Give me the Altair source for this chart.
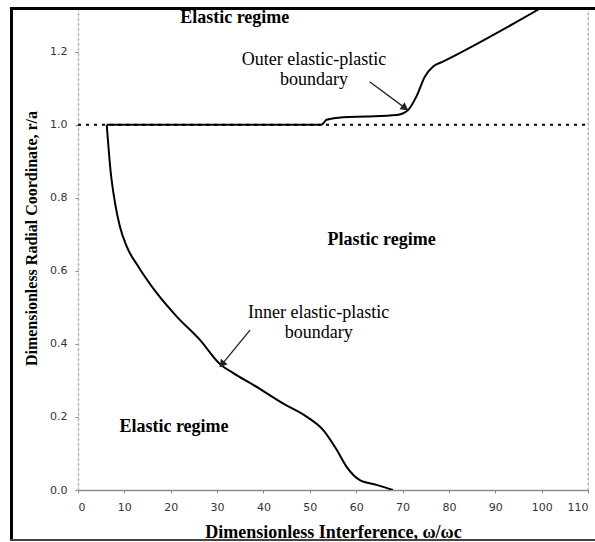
import math
import altair as alt
import pandas as pd

inner_w = [67.9, 64.4, 60.8, 57.9, 55.8, 52.9, 49.3, 44.2, 37.8, 33.5, 30.6,
           26.3, 21.3, 17.0, 13.0, 10.5, 9.05, 8.0, 7.0, 6.2]
inner_r = [0.0, 0.014, 0.027, 0.064, 0.110, 0.164, 0.201, 0.237, 0.288, 0.320, 0.345,
           0.411, 0.475, 0.539, 0.612, 0.667, 0.721, 0.785, 0.877, 1.0]

# Outer elastic-plastic boundary, from first yield at the surface outwards
outer_w = [6.2, 52.5, 53.6, 57.2, 62.2, 68.7, 71.2, 73.0, 74.8, 76.6, 78.7, 99.6]
outer_r = [1.0, 1.0, 1.014, 1.021, 1.023, 1.027, 1.041, 1.078, 1.132, 1.160, 1.173, 1.318]

# Axis ranges and ticks
W_MAX, R_MAX = 110, 1.32
x_ticks = list(range(0, 111, 10))
y_ticks = [0.0, 0.2, 0.4, 0.6, 0.8, 1.0, 1.2]

# Region labels (bold) and boundary labels (regular)
region_text = ["Elastic regime", "Plastic regime", "Elastic regime"]
region_w = [33.8, 65.5, 20.7]
region_r = [1.293, 0.685, 0.173]

bnd_text = ["Outer elastic-plastic", "boundary", "Inner elastic-plastic", "boundary"]
bnd_w = [50.9, 50.9, 51.9, 51.9]
bnd_r = [1.178, 1.123, 0.485, 0.430]

# Leader arrows: start and tip
arr_w1 = [62.9, 37.1]
arr_r1 = [1.118, 0.438]
arr_w2 = [71.1, 30.6]
arr_r2 = [1.041, 0.337]

PW, PH = 510, 482
SERIF = "Liberation Serif"
SANS = "DejaVu Sans"

xs = alt.Scale(domain=[0, W_MAX], nice=False, zero=False)
ys = alt.Scale(domain=[0, R_MAX], nice=False, zero=False)

rows = []
for w, r in zip(inner_w, inner_r):
    rows.append({"w": w, "r": r, "part": "inner"})
for w, r in zip(outer_w, outer_r):
    rows.append({"w": w, "r": r, "part": "outer"})
curve_df = pd.DataFrame(rows)

one = pd.DataFrame({"k": [0]})

x_axis = alt.Axis(
    values=x_ticks, format="d", grid=False,
    domainColor="#8a8a8a", domainWidth=1.5, tickColor="#8a8a8a", tickSize=3,
    labelFont=SANS, labelFontSize=11, labelColor="#333", labelPadding=8,
    title="Dimensionless Interference, ω/ωc", titleFont=SERIF, titleFontSize=18,
    titleFontWeight="bold", titleColor="black", titleY=42, titleBaseline="middle",
)
y_axis = alt.Axis(
    values=y_ticks, format=".1f", grid=False,
    domainColor="#a8a8a8", domainWidth=1.5, domainDash=[2, 3],
    tickColor="#8a8a8a", tickSize=3,
    labelFont=SANS, labelFontSize=11, labelColor="#333", labelPadding=8,
    title="Dimensionless Radial Coordinate, r/a", titleFont=SERIF, titleFontSize=16,
    titleFontWeight="bold", titleColor="black", titleX=-47, titleY=230,
    titleAngle=270, titleAlign="center", titleBaseline="middle",
)

# r/a = 1 reference line
ref = alt.Chart(one).mark_rule(color="black", strokeWidth=2, strokeDash=[3, 5]).encode(
    x=alt.X("a:Q", scale=xs, axis=x_axis), x2=alt.datum(W_MAX),
    y=alt.Y("b:Q", scale=ys, axis=y_axis),
).transform_calculate(a="0", b="1.0")

# right-hand dotted edge
right_edge = alt.Chart(one).mark_rule(color="#aaaaaa", strokeWidth=1.2, strokeDash=[2, 3]).encode(
    x=alt.datum(W_MAX), y=alt.datum(0), y2=alt.datum(R_MAX),
)

# both boundaries are single-valued in w, so a monotone spline keeps them smooth without overshoot
curve = alt.Chart(curve_df).mark_line(
    color="black", strokeWidth=2, interpolate="monotone", clip=True
).encode(
    x=alt.X("w:Q", scale=xs), y=alt.Y("r:Q", scale=ys),
    detail="part:N",
)

regions = alt.Chart(pd.DataFrame({"w": region_w, "r": region_r, "t": region_text})).mark_text(
    font=SERIF, fontSize=18, fontWeight="bold", color="black", baseline="middle"
).encode(x=alt.X("w:Q", scale=xs), y=alt.Y("r:Q", scale=ys), text="t:N")

bnd = alt.Chart(pd.DataFrame({"w": bnd_w, "r": bnd_r, "t": bnd_text})).mark_text(
    font=SERIF, fontSize=18, color="black", baseline="middle"
).encode(x=alt.X("w:Q", scale=xs), y=alt.Y("r:Q", scale=ys), text="t:N")

# arrow shafts and heads
sx, sy = PW / W_MAX, PH / R_MAX
angles, hw, hr = [], [], []
for w1, r1, w2, r2 in zip(arr_w1, arr_r1, arr_w2, arr_r2):
    dx, dy = (w2 - w1) * sx, -(r2 - r1) * sy
    ln = math.hypot(dx, dy)
    angles.append(math.degrees(math.atan2(dx, -dy)) % 360)
    back = 4.5
    hw.append(w2 - dx / ln * back / sx)
    hr.append(r2 + dy / ln * back / sy)

arrow_df = pd.DataFrame({"w1": arr_w1, "r1": arr_r1, "w2": arr_w2, "r2": arr_r2,
                         "hw": hw, "hr": hr, "ang": angles})
shafts = alt.Chart(arrow_df).mark_rule(color="#222", strokeWidth=1.3).encode(
    x=alt.X("w1:Q", scale=xs), y=alt.Y("r1:Q", scale=ys), x2="w2:Q", y2="r2:Q",
)
heads = alt.Chart(arrow_df).mark_point(
    shape="triangle", filled=True, color="#222", size=75, opacity=1
).encode(
    x=alt.X("hw:Q", scale=xs), y=alt.Y("hr:Q", scale=ys),
    angle=alt.Angle("ang:Q", scale=None),
)

# outer frame around the figure
frame_left = alt.Chart(one).mark_rule(color="black", strokeWidth=3).encode(
    x=alt.value(-66.5), y=alt.value(-0.5), y2=alt.value(532))
frame_top = alt.Chart(one).mark_rule(color="black", strokeWidth=3).encode(
    x=alt.value(-68), x2=alt.value(517), y=alt.value(0.5))
frame_bottom = alt.Chart(one).mark_rule(color="#444", strokeWidth=2).encode(
    x=alt.value(-68), x2=alt.value(517), y=alt.value(532))

chart = alt.layer(
    ref, right_edge, curve, shafts, heads, regions, bnd,
    frame_left, frame_top, frame_bottom,
).properties(
    width=PW, height=PH, autosize="none",
    padding={"left": 78, "top": 8, "right": 7, "bottom": 52},
).configure_view(strokeWidth=0).configure(background="white")

chart.save("out.html", embed_options={"renderer": "svg", "actions": False})
